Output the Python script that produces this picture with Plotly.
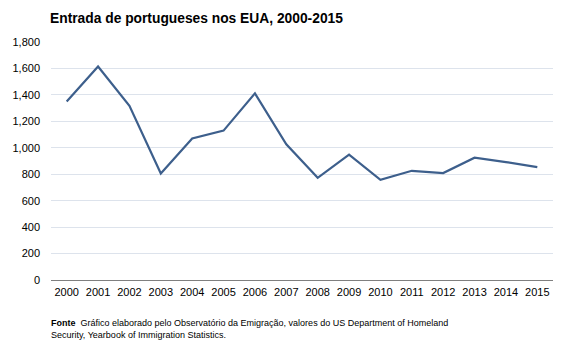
import plotly.graph_objects as go

years = [str(y) for y in range(2000, 2016)]
entradas = [1350, 1615, 1318, 806, 1070, 1130, 1412, 1027, 773, 948, 758, 826, 809, 925, 892, 854]
y_ticks = [0, 200, 400, 600, 800, 1000, 1200, 1400, 1600, 1800]

fig = go.Figure()
fig.add_trace(go.Scatter(
    x=years, y=entradas, mode="lines",
    line=dict(color="#3d5f8c", width=2.2),
    hoverinfo="skip", showlegend=False,
))

fig.update_layout(
    width=567, height=340,
    margin=dict(l=44, r=14, t=42, b=60),
    paper_bgcolor="white", plot_bgcolor="white",
    font=dict(family="Liberation Sans, Arial, sans-serif", size=11, color="#000000"),
    xaxis=dict(
        type="category", range=[-0.5, 15.5],
        showgrid=False, showline=True, linecolor="#7f7f7f", linewidth=1,
        ticks="", tickfont=dict(size=11), ticklabelstandoff=2, fixedrange=True,
    ),
    yaxis=dict(
        range=[0, 1800], tickvals=y_ticks, tickformat=",d",
        showgrid=True, gridcolor="#dde3ec", gridwidth=1,
        zeroline=False, showline=False, ticks="", ticklabelstandoff=10,
        tickfont=dict(size=11), fixedrange=True,
    ),
    annotations=[
        dict(text="<b>Entrada de portugueses nos EUA, 2000-2015</b>",
             xref="paper", yref="paper", x=0, xshift=-3, y=1.0, yshift=24,
             xanchor="left", yanchor="middle", showarrow=False,
             font=dict(size=13.8, color="#000000")),
        dict(text="<b>Fonte</b>  Gráfico elaborado pelo Observatório da Emigração, valores do US Department of Homeland<br>Security, Yearbook of Immigration Statistics.",
             xref="paper", yref="paper", x=0, xshift=-2, y=0, yshift=-36,
             xanchor="left", yanchor="top", align="left", showarrow=False,
             font=dict(size=9, color="#000000")),
    ],
)

fig.write_html("out.html")
